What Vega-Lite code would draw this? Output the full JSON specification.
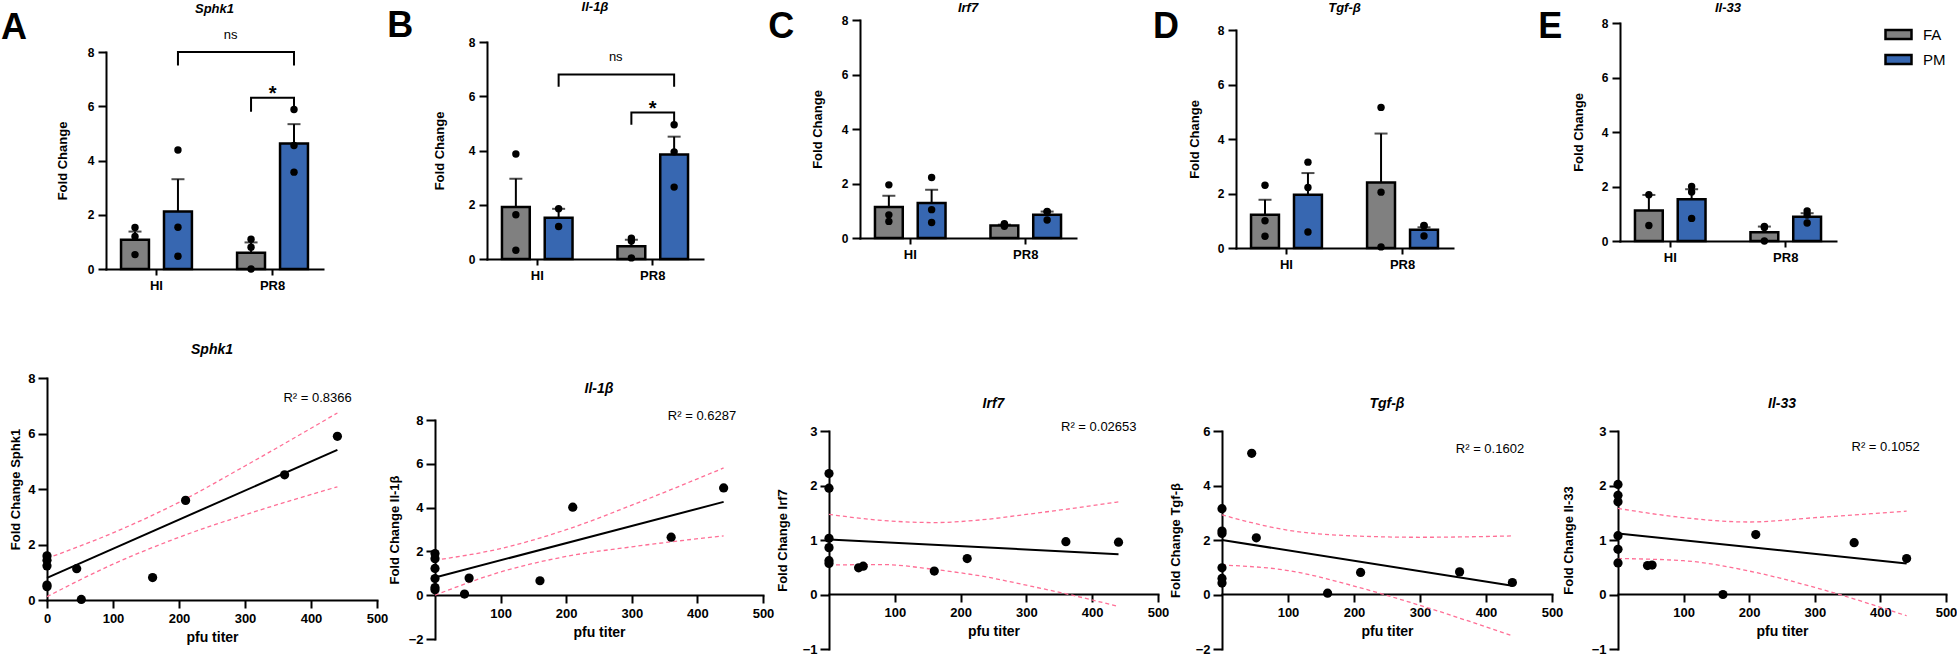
{
  "$schema": "https://vega.github.io/schema/vega-lite/v6.json",
  "background": "white",
  "padding": {"top": 0, "left": 0, "right": 0, "bottom": 0},
  "spacing": 51,
  "config": {
    "font": "Liberation Sans",
    "view": {"stroke": null},
    "axis": {"domainColor": "black", "domainWidth": 2, "domainCap": "square", "tickColor": "black", "tickWidth": 2, "labelColor": "black", "labelFontWeight": "bold", "labelFontSize": 12, "labelFont": "Liberation Sans", "titleColor": "black", "titleFontWeight": "bold", "titleFontSize": 13, "titleFont": "Liberation Sans", "grid": false, "labelOverlap": false, "labelFlush": false},
    "title": {"font": "Liberation Sans", "fontSize": 13, "fontWeight": "bold", "fontStyle": "italic", "color": "black", "anchor": "middle", "frame": "group"},
    "text": {"font": "Liberation Sans", "color": "black"}
  },
  "datasets": {
    "bars": [
      {"g": "sphk1", "group": "HI", "cond": "FA", "mean": 1.08, "upper": 1.38},
      {"g": "sphk1", "group": "HI", "cond": "PM", "mean": 2.12, "upper": 3.31},
      {"g": "sphk1", "group": "PR8", "cond": "FA", "mean": 0.6, "upper": 0.98},
      {"g": "sphk1", "group": "PR8", "cond": "PM", "mean": 4.63, "upper": 5.34},
      {"g": "il1b", "group": "HI", "cond": "FA", "mean": 1.92, "upper": 2.96},
      {"g": "il1b", "group": "HI", "cond": "PM", "mean": 1.52, "upper": 1.85},
      {"g": "il1b", "group": "PR8", "cond": "FA", "mean": 0.47, "upper": 0.71},
      {"g": "il1b", "group": "PR8", "cond": "PM", "mean": 3.85, "upper": 4.51},
      {"g": "irf7", "group": "HI", "cond": "FA", "mean": 1.14, "upper": 1.55},
      {"g": "irf7", "group": "HI", "cond": "PM", "mean": 1.28, "upper": 1.77},
      {"g": "irf7", "group": "PR8", "cond": "FA", "mean": 0.46, "upper": 0.49},
      {"g": "irf7", "group": "PR8", "cond": "PM", "mean": 0.85, "upper": 0.97},
      {"g": "tgfb", "group": "HI", "cond": "FA", "mean": 1.22, "upper": 1.77},
      {"g": "tgfb", "group": "HI", "cond": "PM", "mean": 1.95, "upper": 2.75},
      {"g": "tgfb", "group": "PR8", "cond": "FA", "mean": 2.4, "upper": 4.2},
      {"g": "tgfb", "group": "PR8", "cond": "PM", "mean": 0.67, "upper": 0.76},
      {"g": "il33", "group": "HI", "cond": "FA", "mean": 1.12, "upper": 1.69},
      {"g": "il33", "group": "HI", "cond": "PM", "mean": 1.53, "upper": 1.9},
      {"g": "il33", "group": "PR8", "cond": "FA", "mean": 0.32, "upper": 0.53},
      {"g": "il33", "group": "PR8", "cond": "PM", "mean": 0.89, "upper": 1.02}
    ],
    "pts": [
      {"g": "sphk1", "group": "HI", "cond": "FA", "v": 1.53}, {"g": "sphk1", "group": "HI", "cond": "FA", "v": 1.2}, {"g": "sphk1", "group": "HI", "cond": "FA", "v": 0.53},
      {"g": "sphk1", "group": "HI", "cond": "PM", "v": 4.39}, {"g": "sphk1", "group": "HI", "cond": "PM", "v": 1.54}, {"g": "sphk1", "group": "HI", "cond": "PM", "v": 0.47},
      {"g": "sphk1", "group": "PR8", "cond": "FA", "v": 1.1}, {"g": "sphk1", "group": "PR8", "cond": "FA", "v": 0.8}, {"g": "sphk1", "group": "PR8", "cond": "FA", "v": 0.0},
      {"g": "sphk1", "group": "PR8", "cond": "PM", "v": 5.88}, {"g": "sphk1", "group": "PR8", "cond": "PM", "v": 4.55}, {"g": "sphk1", "group": "PR8", "cond": "PM", "v": 3.57},
      {"g": "il1b", "group": "HI", "cond": "FA", "v": 3.87}, {"g": "il1b", "group": "HI", "cond": "FA", "v": 1.63}, {"g": "il1b", "group": "HI", "cond": "FA", "v": 0.32},
      {"g": "il1b", "group": "HI", "cond": "PM", "v": 1.85}, {"g": "il1b", "group": "HI", "cond": "PM", "v": 1.2},
      {"g": "il1b", "group": "PR8", "cond": "FA", "v": 0.77}, {"g": "il1b", "group": "PR8", "cond": "FA", "v": 0.66}, {"g": "il1b", "group": "PR8", "cond": "FA", "v": 0.04},
      {"g": "il1b", "group": "PR8", "cond": "PM", "v": 4.95}, {"g": "il1b", "group": "PR8", "cond": "PM", "v": 3.95}, {"g": "il1b", "group": "PR8", "cond": "PM", "v": 2.65},
      {"g": "irf7", "group": "HI", "cond": "FA", "v": 1.95}, {"g": "irf7", "group": "HI", "cond": "FA", "v": 0.85}, {"g": "irf7", "group": "HI", "cond": "FA", "v": 0.61},
      {"g": "irf7", "group": "HI", "cond": "PM", "v": 2.22}, {"g": "irf7", "group": "HI", "cond": "PM", "v": 1.04}, {"g": "irf7", "group": "HI", "cond": "PM", "v": 0.57},
      {"g": "irf7", "group": "PR8", "cond": "FA", "v": 0.52}, {"g": "irf7", "group": "PR8", "cond": "FA", "v": 0.49}, {"g": "irf7", "group": "PR8", "cond": "FA", "v": 0.43},
      {"g": "irf7", "group": "PR8", "cond": "PM", "v": 0.97}, {"g": "irf7", "group": "PR8", "cond": "PM", "v": 0.96}, {"g": "irf7", "group": "PR8", "cond": "PM", "v": 0.66},
      {"g": "tgfb", "group": "HI", "cond": "FA", "v": 2.3}, {"g": "tgfb", "group": "HI", "cond": "FA", "v": 1.0}, {"g": "tgfb", "group": "HI", "cond": "FA", "v": 0.43},
      {"g": "tgfb", "group": "HI", "cond": "PM", "v": 3.15}, {"g": "tgfb", "group": "HI", "cond": "PM", "v": 2.22}, {"g": "tgfb", "group": "HI", "cond": "PM", "v": 0.59},
      {"g": "tgfb", "group": "PR8", "cond": "FA", "v": 5.16}, {"g": "tgfb", "group": "PR8", "cond": "FA", "v": 2.05}, {"g": "tgfb", "group": "PR8", "cond": "FA", "v": 0.04},
      {"g": "tgfb", "group": "PR8", "cond": "PM", "v": 0.83}, {"g": "tgfb", "group": "PR8", "cond": "PM", "v": 0.82}, {"g": "tgfb", "group": "PR8", "cond": "PM", "v": 0.44},
      {"g": "il33", "group": "HI", "cond": "FA", "v": 1.7}, {"g": "il33", "group": "HI", "cond": "FA", "v": 0.57},
      {"g": "il33", "group": "HI", "cond": "PM", "v": 2.0}, {"g": "il33", "group": "HI", "cond": "PM", "v": 1.8}, {"g": "il33", "group": "HI", "cond": "PM", "v": 0.83},
      {"g": "il33", "group": "PR8", "cond": "FA", "v": 0.53}, {"g": "il33", "group": "PR8", "cond": "FA", "v": 0.5}, {"g": "il33", "group": "PR8", "cond": "FA", "v": 0.0},
      {"g": "il33", "group": "PR8", "cond": "PM", "v": 1.1}, {"g": "il33", "group": "PR8", "cond": "PM", "v": 0.95}, {"g": "il33", "group": "PR8", "cond": "PM", "v": 0.66}
    ],
    "brk": [
      {"g": "sphk1", "b": "ns", "group": "HI", "cond": "PM", "y": 7.5, "i": 1},
      {"g": "sphk1", "b": "ns", "group": "HI", "cond": "PM", "y": 8.0, "i": 2},
      {"g": "sphk1", "b": "ns", "group": "PR8", "cond": "PM", "y": 8.0, "i": 3},
      {"g": "sphk1", "b": "ns", "group": "PR8", "cond": "PM", "y": 7.5, "i": 4},
      {"g": "sphk1", "b": "star", "group": "PR8", "cond": "FA", "y": 5.8, "i": 1},
      {"g": "sphk1", "b": "star", "group": "PR8", "cond": "FA", "y": 6.31, "i": 2},
      {"g": "sphk1", "b": "star", "group": "PR8", "cond": "PM", "y": 6.31, "i": 3},
      {"g": "sphk1", "b": "star", "group": "PR8", "cond": "PM", "y": 5.8, "i": 4},
      {"g": "il1b", "b": "ns", "group": "HI", "cond": "PM", "y": 6.35, "i": 1},
      {"g": "il1b", "b": "ns", "group": "HI", "cond": "PM", "y": 6.8, "i": 2},
      {"g": "il1b", "b": "ns", "group": "PR8", "cond": "PM", "y": 6.8, "i": 3},
      {"g": "il1b", "b": "ns", "group": "PR8", "cond": "PM", "y": 6.35, "i": 4},
      {"g": "il1b", "b": "star", "group": "PR8", "cond": "FA", "y": 4.95, "i": 1},
      {"g": "il1b", "b": "star", "group": "PR8", "cond": "FA", "y": 5.4, "i": 2},
      {"g": "il1b", "b": "star", "group": "PR8", "cond": "PM", "y": 5.4, "i": 3},
      {"g": "il1b", "b": "star", "group": "PR8", "cond": "PM", "y": 4.95, "i": 4}
    ],
    "scat": [
      {"g": "sphk1", "pfu": 0, "v": 1.59}, {"g": "sphk1", "pfu": 0, "v": 1.43}, {"g": "sphk1", "pfu": 0, "v": 1.23}, {"g": "sphk1", "pfu": 0, "v": 0.54}, {"g": "sphk1", "pfu": 0, "v": 0.48},
      {"g": "sphk1", "pfu": 45, "v": 1.13}, {"g": "sphk1", "pfu": 52, "v": 0.02}, {"g": "sphk1", "pfu": 160, "v": 0.81}, {"g": "sphk1", "pfu": 210, "v": 3.59}, {"g": "sphk1", "pfu": 360, "v": 4.51}, {"g": "sphk1", "pfu": 440, "v": 5.9},
      {"g": "il1b", "pfu": 0, "v": 1.9}, {"g": "il1b", "pfu": 0, "v": 1.67}, {"g": "il1b", "pfu": 0, "v": 1.22}, {"g": "il1b", "pfu": 0, "v": 0.76}, {"g": "il1b", "pfu": 0, "v": 0.35}, {"g": "il1b", "pfu": 0, "v": 0.25},
      {"g": "il1b", "pfu": 45, "v": 0.05}, {"g": "il1b", "pfu": 52, "v": 0.78}, {"g": "il1b", "pfu": 160, "v": 0.66}, {"g": "il1b", "pfu": 210, "v": 4.02}, {"g": "il1b", "pfu": 360, "v": 2.65}, {"g": "il1b", "pfu": 440, "v": 4.9},
      {"g": "irf7", "pfu": 0, "v": 2.22}, {"g": "irf7", "pfu": 0, "v": 1.95}, {"g": "irf7", "pfu": 0, "v": 1.03}, {"g": "irf7", "pfu": 0, "v": 0.86}, {"g": "irf7", "pfu": 0, "v": 0.62}, {"g": "irf7", "pfu": 0, "v": 0.57},
      {"g": "irf7", "pfu": 45, "v": 0.49}, {"g": "irf7", "pfu": 52, "v": 0.52}, {"g": "irf7", "pfu": 160, "v": 0.43}, {"g": "irf7", "pfu": 210, "v": 0.66}, {"g": "irf7", "pfu": 360, "v": 0.97}, {"g": "irf7", "pfu": 440, "v": 0.96},
      {"g": "tgfb", "pfu": 0, "v": 3.15}, {"g": "tgfb", "pfu": 0, "v": 2.33}, {"g": "tgfb", "pfu": 0, "v": 2.24}, {"g": "tgfb", "pfu": 0, "v": 0.98}, {"g": "tgfb", "pfu": 0, "v": 0.59}, {"g": "tgfb", "pfu": 0, "v": 0.42},
      {"g": "tgfb", "pfu": 45, "v": 5.18}, {"g": "tgfb", "pfu": 52, "v": 2.08}, {"g": "tgfb", "pfu": 160, "v": 0.05}, {"g": "tgfb", "pfu": 210, "v": 0.81}, {"g": "tgfb", "pfu": 360, "v": 0.83}, {"g": "tgfb", "pfu": 440, "v": 0.44},
      {"g": "il33", "pfu": 0, "v": 2.02}, {"g": "il33", "pfu": 0, "v": 1.82}, {"g": "il33", "pfu": 0, "v": 1.7}, {"g": "il33", "pfu": 0, "v": 1.08}, {"g": "il33", "pfu": 0, "v": 0.83}, {"g": "il33", "pfu": 0, "v": 0.58},
      {"g": "il33", "pfu": 45, "v": 0.53}, {"g": "il33", "pfu": 52, "v": 0.54}, {"g": "il33", "pfu": 160, "v": 0.0}, {"g": "il33", "pfu": 210, "v": 1.1}, {"g": "il33", "pfu": 360, "v": 0.95}, {"g": "il33", "pfu": 440, "v": 0.66}
    ],
    "fit": [
      {"g": "sphk1", "pfu": 0, "v": 0.8}, {"g": "sphk1", "pfu": 440, "v": 5.41},
      {"g": "il1b", "pfu": 0, "v": 0.81}, {"g": "il1b", "pfu": 440, "v": 4.26},
      {"g": "irf7", "pfu": 0, "v": 1.01}, {"g": "irf7", "pfu": 440, "v": 0.74},
      {"g": "tgfb", "pfu": 0, "v": 2.0}, {"g": "tgfb", "pfu": 440, "v": 0.32},
      {"g": "il33", "pfu": 0, "v": 1.12}, {"g": "il33", "pfu": 440, "v": 0.57}
    ],
    "ci": [
      {"g": "sphk1", "bound": "upper", "pfu": 0, "v": 1.5}, {"g": "sphk1", "bound": "upper", "pfu": 100, "v": 2.42}, {"g": "sphk1", "bound": "upper", "pfu": 200, "v": 3.52}, {"g": "sphk1", "bound": "upper", "pfu": 300, "v": 4.83}, {"g": "sphk1", "bound": "upper", "pfu": 440, "v": 6.74},
      {"g": "sphk1", "bound": "lower", "pfu": 0, "v": 0.12}, {"g": "sphk1", "bound": "lower", "pfu": 100, "v": 1.29}, {"g": "sphk1", "bound": "lower", "pfu": 200, "v": 2.26}, {"g": "sphk1", "bound": "lower", "pfu": 300, "v": 3.07}, {"g": "sphk1", "bound": "lower", "pfu": 440, "v": 4.08},
      {"g": "il1b", "bound": "upper", "pfu": 0, "v": 1.6}, {"g": "il1b", "bound": "upper", "pfu": 100, "v": 2.13}, {"g": "il1b", "bound": "upper", "pfu": 200, "v": 2.99}, {"g": "il1b", "bound": "upper", "pfu": 300, "v": 4.11}, {"g": "il1b", "bound": "upper", "pfu": 440, "v": 5.81},
      {"g": "il1b", "bound": "lower", "pfu": 0, "v": 0.0}, {"g": "il1b", "bound": "lower", "pfu": 100, "v": 1.06}, {"g": "il1b", "bound": "lower", "pfu": 200, "v": 1.77}, {"g": "il1b", "bound": "lower", "pfu": 300, "v": 2.21}, {"g": "il1b", "bound": "lower", "pfu": 440, "v": 2.71},
      {"g": "irf7", "bound": "upper", "pfu": 0, "v": 1.47}, {"g": "irf7", "bound": "upper", "pfu": 80, "v": 1.36}, {"g": "irf7", "bound": "upper", "pfu": 160, "v": 1.32}, {"g": "irf7", "bound": "upper", "pfu": 240, "v": 1.38}, {"g": "irf7", "bound": "upper", "pfu": 300, "v": 1.47}, {"g": "irf7", "bound": "upper", "pfu": 370, "v": 1.58}, {"g": "irf7", "bound": "upper", "pfu": 440, "v": 1.7},
      {"g": "irf7", "bound": "lower", "pfu": 0, "v": 0.54}, {"g": "irf7", "bound": "lower", "pfu": 80, "v": 0.55}, {"g": "irf7", "bound": "lower", "pfu": 160, "v": 0.46}, {"g": "irf7", "bound": "lower", "pfu": 240, "v": 0.32}, {"g": "irf7", "bound": "lower", "pfu": 300, "v": 0.17}, {"g": "irf7", "bound": "lower", "pfu": 365, "v": 0.0}, {"g": "irf7", "bound": "lower", "pfu": 440, "v": -0.22},
      {"g": "tgfb", "bound": "upper", "pfu": 0, "v": 2.92}, {"g": "tgfb", "bound": "upper", "pfu": 100, "v": 2.36}, {"g": "tgfb", "bound": "upper", "pfu": 200, "v": 2.15}, {"g": "tgfb", "bound": "upper", "pfu": 300, "v": 2.1}, {"g": "tgfb", "bound": "upper", "pfu": 440, "v": 2.15},
      {"g": "tgfb", "bound": "lower", "pfu": 0, "v": 1.08}, {"g": "tgfb", "bound": "lower", "pfu": 100, "v": 0.88}, {"g": "tgfb", "bound": "lower", "pfu": 200, "v": 0.31}, {"g": "tgfb", "bound": "lower", "pfu": 300, "v": -0.4}, {"g": "tgfb", "bound": "lower", "pfu": 440, "v": -1.52},
      {"g": "il33", "bound": "upper", "pfu": 0, "v": 1.58}, {"g": "il33", "bound": "upper", "pfu": 100, "v": 1.41}, {"g": "il33", "bound": "upper", "pfu": 200, "v": 1.33}, {"g": "il33", "bound": "upper", "pfu": 300, "v": 1.41}, {"g": "il33", "bound": "upper", "pfu": 440, "v": 1.53},
      {"g": "il33", "bound": "lower", "pfu": 0, "v": 0.66}, {"g": "il33", "bound": "lower", "pfu": 100, "v": 0.62}, {"g": "il33", "bound": "lower", "pfu": 200, "v": 0.43}, {"g": "il33", "bound": "lower", "pfu": 300, "v": 0.13}, {"g": "il33", "bound": "lower", "pfu": 440, "v": -0.39}
    ]
  },
  "resolve": {"scale": {"fill": "independent", "xOffset": "independent"}},
  "vconcat": [
    {
      "spacing": 0,
      "bounds": "flush",
      "resolve": {"scale": {"fill": "independent", "xOffset": "independent"}},
      "hconcat": [
        {"width": 59, "height": 1, "data": {"values": []}, "mark": {"type": "point", "opacity": 0}},
        {
          "width": 217, "height": 249,
          "title": {"text": "Sphk1", "offset": -6},
          "layer": [
            {"data": {"name": "bars"}, "transform": [{"filter": {"field": "g", "equal": "sphk1"}}],
             "mark": {"type": "bar", "stroke": "black", "strokeWidth": 2.5},
             "encoding": {
               "x": {"field": "group", "type": "nominal", "title": null, "scale": {"domain": ["HI", "PR8"], "paddingInner": 0.13, "paddingOuter": 0}, "axis": {"labelAngle": 0, "tickSize": 6, "labelPadding": 4, "labelFontSize": 13}},
               "xOffset": {"field": "cond", "type": "nominal", "scale": {"domain": ["FA", "PM"], "paddingInner": 0.35, "paddingOuter": 0.35}},
               "y": {"field": "mean", "type": "quantitative", "title": "Fold Change", "scale": {"domain": [0, 8], "range": [249, 32], "nice": false}, "axis": {"values": [0, 2, 4, 6, 8], "format": "d", "tickSize": 8, "labelPadding": 4, "titlePadding": 18}},
               "fill": {"field": "cond", "type": "nominal", "scale": {"domain": ["FA", "PM"], "range": ["#808080", "#3767b1"]}, "legend": null}
             }},
            {"data": {"name": "bars"}, "transform": [{"filter": {"field": "g", "equal": "sphk1"}}],
             "mark": {"type": "rule", "color": "black", "strokeWidth": 2},
             "encoding": {"x": {"field": "group", "type": "nominal", "title": null}, "xOffset": {"field": "cond", "type": "nominal"}, "y": {"field": "mean", "type": "quantitative", "title": "Fold Change"}, "y2": {"field": "upper"}}},
            {"data": {"name": "bars"}, "transform": [{"filter": {"field": "g", "equal": "sphk1"}}],
             "mark": {"type": "tick", "color": "black", "thickness": 2, "size": 13},
             "encoding": {"x": {"field": "group", "type": "nominal", "title": null}, "xOffset": {"field": "cond", "type": "nominal"}, "y": {"field": "upper", "type": "quantitative", "title": "Fold Change"}}},
            {"data": {"name": "pts"}, "transform": [{"filter": {"field": "g", "equal": "sphk1"}}],
             "mark": {"type": "point", "filled": true, "color": "black", "size": 55, "opacity": 1},
             "encoding": {"x": {"field": "group", "type": "nominal", "title": null}, "xOffset": {"field": "cond", "type": "nominal"}, "y": {"field": "v", "type": "quantitative", "title": "Fold Change"}}},
            {"data": {"name": "brk"}, "transform": [{"filter": {"field": "g", "equal": "sphk1"}}],
             "mark": {"type": "line", "color": "black", "strokeWidth": 2},
             "encoding": {"x": {"field": "group", "type": "nominal", "title": null}, "xOffset": {"field": "cond", "type": "nominal"}, "y": {"field": "y", "type": "quantitative", "title": "Fold Change"}, "detail": {"field": "b", "type": "nominal"}, "order": {"field": "i", "type": "quantitative"}}},
            {"data": {"values": [{}]}, "mark": {"type": "text", "fontSize": 13, "dx": -42, "baseline": "alphabetic"},
             "encoding": {"x": {"datum": "PR8"}, "y": {"datum": 8.48}, "text": {"value": "ns"}}},
            {"data": {"values": [{}]}, "mark": {"type": "text", "fontSize": 20, "fontWeight": "bold", "baseline": "alphabetic"},
             "encoding": {"x": {"datum": "PR8"}, "y": {"datum": 6.23}, "text": {"value": "*"}}},
            {"data": {"values": [{}]}, "mark": {"type": "text", "fontSize": 36, "fontWeight": "bold", "align": "left", "baseline": "alphabetic", "dx": -155.5},
             "encoding": {"x": {"datum": "HI"}, "y": {"datum": 8.48}, "text": {"value": "A"}}}
          ]
        },
        {"width": 164, "height": 1, "data": {"values": []}, "mark": {"type": "point", "opacity": 0}},
        {
          "width": 216, "height": 239,
          "title": {"text": "Il-1β", "offset": -6},
          "layer": [
            {"data": {"name": "bars"}, "transform": [{"filter": {"field": "g", "equal": "il1b"}}],
             "mark": {"type": "bar", "stroke": "black", "strokeWidth": 2.5},
             "encoding": {
               "x": {"field": "group", "type": "nominal", "title": null, "scale": {"domain": ["HI", "PR8"], "paddingInner": 0.13, "paddingOuter": 0}, "axis": {"labelAngle": 0, "tickSize": 6, "labelPadding": 4, "labelFontSize": 13}},
               "xOffset": {"field": "cond", "type": "nominal", "scale": {"domain": ["FA", "PM"], "paddingInner": 0.35, "paddingOuter": 0.35}},
               "y": {"field": "mean", "type": "quantitative", "title": "Fold Change", "scale": {"domain": [0, 8], "range": [239, 22], "nice": false}, "axis": {"values": [0, 2, 4, 6, 8], "format": "d", "tickSize": 8, "labelPadding": 4, "titlePadding": 22}},
               "fill": {"field": "cond", "type": "nominal", "scale": {"domain": ["FA", "PM"], "range": ["#808080", "#3767b1"]}, "legend": null}
             }},
            {"data": {"name": "bars"}, "transform": [{"filter": {"field": "g", "equal": "il1b"}}],
             "mark": {"type": "rule", "color": "black", "strokeWidth": 2},
             "encoding": {"x": {"field": "group", "type": "nominal", "title": null}, "xOffset": {"field": "cond", "type": "nominal"}, "y": {"field": "mean", "type": "quantitative", "title": "Fold Change"}, "y2": {"field": "upper"}}},
            {"data": {"name": "bars"}, "transform": [{"filter": {"field": "g", "equal": "il1b"}}],
             "mark": {"type": "tick", "color": "black", "thickness": 2, "size": 13},
             "encoding": {"x": {"field": "group", "type": "nominal", "title": null}, "xOffset": {"field": "cond", "type": "nominal"}, "y": {"field": "upper", "type": "quantitative", "title": "Fold Change"}}},
            {"data": {"name": "pts"}, "transform": [{"filter": {"field": "g", "equal": "il1b"}}],
             "mark": {"type": "point", "filled": true, "color": "black", "size": 55, "opacity": 1},
             "encoding": {"x": {"field": "group", "type": "nominal", "title": null}, "xOffset": {"field": "cond", "type": "nominal"}, "y": {"field": "v", "type": "quantitative", "title": "Fold Change"}}},
            {"data": {"name": "brk"}, "transform": [{"filter": {"field": "g", "equal": "il1b"}}],
             "mark": {"type": "line", "color": "black", "strokeWidth": 2},
             "encoding": {"x": {"field": "group", "type": "nominal", "title": null}, "xOffset": {"field": "cond", "type": "nominal"}, "y": {"field": "y", "type": "quantitative", "title": "Fold Change"}, "detail": {"field": "b", "type": "nominal"}, "order": {"field": "i", "type": "quantitative"}}},
            {"data": {"values": [{}]}, "mark": {"type": "text", "fontSize": 13, "dx": -37, "baseline": "alphabetic"},
             "encoding": {"x": {"datum": "PR8"}, "y": {"datum": 7.31}, "text": {"value": "ns"}}},
            {"data": {"values": [{}]}, "mark": {"type": "text", "fontSize": 20, "fontWeight": "bold", "baseline": "alphabetic"},
             "encoding": {"x": {"datum": "PR8"}, "y": {"datum": 5.32}, "text": {"value": "*"}}},
            {"data": {"values": [{}]}, "mark": {"type": "text", "fontSize": 36, "fontWeight": "bold", "align": "left", "baseline": "alphabetic", "dx": -150},
             "encoding": {"x": {"datum": "HI"}, "y": {"datum": 8.2}, "text": {"value": "B"}}}
          ]
        },
        {"width": 157, "height": 1, "data": {"values": []}, "mark": {"type": "point", "opacity": 0}},
        {
          "width": 216, "height": 218,
          "title": {"text": "Irf7", "offset": -6},
          "layer": [
            {"data": {"name": "bars"}, "transform": [{"filter": {"field": "g", "equal": "irf7"}}],
             "mark": {"type": "bar", "stroke": "black", "strokeWidth": 2.5},
             "encoding": {
               "x": {"field": "group", "type": "nominal", "title": null, "scale": {"domain": ["HI", "PR8"], "paddingInner": 0.13, "paddingOuter": 0}, "axis": {"labelAngle": 0, "tickSize": 6, "labelPadding": 4, "labelFontSize": 13}},
               "xOffset": {"field": "cond", "type": "nominal", "scale": {"domain": ["FA", "PM"], "paddingInner": 0.35, "paddingOuter": 0.35}},
               "y": {"field": "mean", "type": "quantitative", "title": "Fold Change", "scale": {"domain": [0, 8], "range": [218, 0], "nice": false}, "axis": {"values": [0, 2, 4, 6, 8], "format": "d", "tickSize": 8, "labelPadding": 4, "titlePadding": 17}},
               "fill": {"field": "cond", "type": "nominal", "scale": {"domain": ["FA", "PM"], "range": ["#808080", "#3767b1"]}, "legend": null}
             }},
            {"data": {"name": "bars"}, "transform": [{"filter": {"field": "g", "equal": "irf7"}}],
             "mark": {"type": "rule", "color": "black", "strokeWidth": 2},
             "encoding": {"x": {"field": "group", "type": "nominal", "title": null}, "xOffset": {"field": "cond", "type": "nominal"}, "y": {"field": "mean", "type": "quantitative", "title": "Fold Change"}, "y2": {"field": "upper"}}},
            {"data": {"name": "bars"}, "transform": [{"filter": {"field": "g", "equal": "irf7"}}],
             "mark": {"type": "tick", "color": "black", "thickness": 2, "size": 13},
             "encoding": {"x": {"field": "group", "type": "nominal", "title": null}, "xOffset": {"field": "cond", "type": "nominal"}, "y": {"field": "upper", "type": "quantitative", "title": "Fold Change"}}},
            {"data": {"name": "pts"}, "transform": [{"filter": {"field": "g", "equal": "irf7"}}],
             "mark": {"type": "point", "filled": true, "color": "black", "size": 55, "opacity": 1},
             "encoding": {"x": {"field": "group", "type": "nominal", "title": null}, "xOffset": {"field": "cond", "type": "nominal"}, "y": {"field": "v", "type": "quantitative", "title": "Fold Change"}}},
            {"data": {"values": [{}]}, "mark": {"type": "text", "fontSize": 36, "fontWeight": "bold", "align": "left", "baseline": "alphabetic", "dx": -142},
             "encoding": {"x": {"datum": "HI"}, "y": {"datum": 7.34}, "text": {"value": "C"}}}
          ]
        },
        {"width": 160, "height": 1, "data": {"values": []}, "mark": {"type": "point", "opacity": 0}},
        {
          "width": 217, "height": 228,
          "title": {"text": "Tgf-β", "offset": -6},
          "layer": [
            {"data": {"name": "bars"}, "transform": [{"filter": {"field": "g", "equal": "tgfb"}}],
             "mark": {"type": "bar", "stroke": "black", "strokeWidth": 2.5},
             "encoding": {
               "x": {"field": "group", "type": "nominal", "title": null, "scale": {"domain": ["HI", "PR8"], "paddingInner": 0.13, "paddingOuter": 0}, "axis": {"labelAngle": 0, "tickSize": 6, "labelPadding": 4, "labelFontSize": 13}},
               "xOffset": {"field": "cond", "type": "nominal", "scale": {"domain": ["FA", "PM"], "paddingInner": 0.35, "paddingOuter": 0.35}},
               "y": {"field": "mean", "type": "quantitative", "title": "Fold Change", "scale": {"domain": [0, 8], "range": [228, 10], "nice": false}, "axis": {"values": [0, 2, 4, 6, 8], "format": "d", "tickSize": 8, "labelPadding": 4, "titlePadding": 16}},
               "fill": {"field": "cond", "type": "nominal", "scale": {"domain": ["FA", "PM"], "range": ["#808080", "#3767b1"]}, "legend": null}
             }},
            {"data": {"name": "bars"}, "transform": [{"filter": {"field": "g", "equal": "tgfb"}}],
             "mark": {"type": "rule", "color": "black", "strokeWidth": 2},
             "encoding": {"x": {"field": "group", "type": "nominal", "title": null}, "xOffset": {"field": "cond", "type": "nominal"}, "y": {"field": "mean", "type": "quantitative", "title": "Fold Change"}, "y2": {"field": "upper"}}},
            {"data": {"name": "bars"}, "transform": [{"filter": {"field": "g", "equal": "tgfb"}}],
             "mark": {"type": "tick", "color": "black", "thickness": 2, "size": 13},
             "encoding": {"x": {"field": "group", "type": "nominal", "title": null}, "xOffset": {"field": "cond", "type": "nominal"}, "y": {"field": "upper", "type": "quantitative", "title": "Fold Change"}}},
            {"data": {"name": "pts"}, "transform": [{"filter": {"field": "g", "equal": "tgfb"}}],
             "mark": {"type": "point", "filled": true, "color": "black", "size": 55, "opacity": 1},
             "encoding": {"x": {"field": "group", "type": "nominal", "title": null}, "xOffset": {"field": "cond", "type": "nominal"}, "y": {"field": "v", "type": "quantitative", "title": "Fold Change"}}},
            {"data": {"values": [{}]}, "mark": {"type": "text", "fontSize": 36, "fontWeight": "bold", "align": "left", "baseline": "alphabetic", "dx": -133.5},
             "encoding": {"x": {"datum": "HI"}, "y": {"datum": 7.71}, "text": {"value": "D"}}}
          ]
        },
        {"width": 167, "height": 1, "data": {"values": []}, "mark": {"type": "point", "opacity": 0}},
        {
          "width": 216, "height": 221,
          "title": {"text": "Il-33", "offset": -6},
          "layer": [
            {"data": {"name": "bars"}, "transform": [{"filter": {"field": "g", "equal": "il33"}}],
             "mark": {"type": "bar", "stroke": "black", "strokeWidth": 2.5},
             "encoding": {
               "x": {"field": "group", "type": "nominal", "title": null, "scale": {"domain": ["HI", "PR8"], "paddingInner": 0.13, "paddingOuter": 0}, "axis": {"labelAngle": 0, "tickSize": 6, "labelPadding": 4, "labelFontSize": 13}},
               "xOffset": {"field": "cond", "type": "nominal", "scale": {"domain": ["FA", "PM"], "paddingInner": 0.35, "paddingOuter": 0.35}},
               "y": {"field": "mean", "type": "quantitative", "title": "Fold Change", "scale": {"domain": [0, 8], "range": [221, 3], "nice": false}, "axis": {"values": [0, 2, 4, 6, 8], "format": "d", "tickSize": 8, "labelPadding": 4, "titlePadding": 16}},
               "fill": {"field": "cond", "type": "nominal", "scale": {"domain": ["FA", "PM"], "range": ["#808080", "#3767b1"]},
                        "legend": {"title": null, "orient": "right", "offset": 48, "padding": 0, "symbolType": "M-1,-0.35H1V0.35H-1Z", "symbolSize": 676, "symbolStrokeColor": "black", "symbolStrokeWidth": 2.5, "symbolOpacity": 1, "labelFontSize": 15, "labelFontWeight": "normal", "labelColor": "black", "labelOffset": 10, "rowPadding": -4}}
             }},
            {"data": {"name": "bars"}, "transform": [{"filter": {"field": "g", "equal": "il33"}}],
             "mark": {"type": "rule", "color": "black", "strokeWidth": 2},
             "encoding": {"x": {"field": "group", "type": "nominal", "title": null}, "xOffset": {"field": "cond", "type": "nominal"}, "y": {"field": "mean", "type": "quantitative", "title": "Fold Change"}, "y2": {"field": "upper"}}},
            {"data": {"name": "bars"}, "transform": [{"filter": {"field": "g", "equal": "il33"}}],
             "mark": {"type": "tick", "color": "black", "thickness": 2, "size": 13},
             "encoding": {"x": {"field": "group", "type": "nominal", "title": null}, "xOffset": {"field": "cond", "type": "nominal"}, "y": {"field": "upper", "type": "quantitative", "title": "Fold Change"}}},
            {"data": {"name": "pts"}, "transform": [{"filter": {"field": "g", "equal": "il33"}}],
             "mark": {"type": "point", "filled": true, "color": "black", "size": 55, "opacity": 1},
             "encoding": {"x": {"field": "group", "type": "nominal", "title": null}, "xOffset": {"field": "cond", "type": "nominal"}, "y": {"field": "v", "type": "quantitative", "title": "Fold Change"}}},
            {"data": {"values": [{}]}, "mark": {"type": "text", "fontSize": 36, "fontWeight": "bold", "align": "left", "baseline": "alphabetic", "dx": -132},
             "encoding": {"x": {"datum": "HI"}, "y": {"datum": 7.45}, "text": {"value": "E"}}}
          ]
        }
      ]
    },
    {
      "spacing": 0,
      "bounds": "flush",
      "hconcat": [
        {
          "width": 330, "height": 222,
          "title": {"text": "Sphk1", "fontSize": 14, "offset": 15},
          "layer": [
            {"data": {"name": "ci"}, "transform": [{"filter": {"field": "g", "equal": "sphk1"}}],
             "mark": {"type": "line", "color": "#ff6f96", "strokeWidth": 1.3, "strokeDash": [4, 3], "interpolate": "monotone"},
             "encoding": {
               "x": {"field": "pfu", "type": "quantitative", "title": "pfu titer", "scale": {"domain": [0, 500], "nice": false, "zero": false}, "axis": {"values": [0, 100, 200, 300, 400, 500], "format": "d", "offset": 0, "tickSize": 8, "labelPadding": 4, "titlePadding": 5, "titleFontSize": 14, "labelFontSize": 13}},
               "y": {"field": "v", "type": "quantitative", "title": "Fold Change Sphk1", "scale": {"domain": [0, 8], "range": [222, 0], "nice": false, "zero": false}, "axis": {"values": [0, 2, 4, 6, 8], "format": "d", "tickSize": 9, "labelPadding": 3, "titlePadding": 5, "labelFontSize": 13}},
               "detail": {"field": "bound", "type": "nominal"}
             }},
            {"data": {"name": "fit"}, "transform": [{"filter": {"field": "g", "equal": "sphk1"}}],
             "mark": {"type": "line", "color": "black", "strokeWidth": 2},
             "encoding": {"x": {"field": "pfu", "type": "quantitative", "title": "pfu titer"}, "y": {"field": "v", "type": "quantitative", "title": "Fold Change Sphk1"}}},
            {"data": {"name": "scat"}, "transform": [{"filter": {"field": "g", "equal": "sphk1"}}],
             "mark": {"type": "circle", "color": "black", "size": 85, "opacity": 1},
             "encoding": {"x": {"field": "pfu", "type": "quantitative", "title": "pfu titer"}, "y": {"field": "v", "type": "quantitative", "title": "Fold Change Sphk1"}}},
            {"data": {"values": [{}]}, "mark": {"type": "text", "fontSize": 13},
             "encoding": {"x": {"datum": 410}, "y": {"datum": 7.28}, "text": {"value": "R² = 0.8366"}}}
          ]
        },
        {"width": 58, "height": 1, "data": {"values": []}, "mark": {"type": "point", "opacity": 0}},
        {
          "width": 328, "height": 261,
          "title": {"text": "Il-1β", "fontSize": 14, "offset": -18},
          "layer": [
            {"data": {"name": "ci"}, "transform": [{"filter": {"field": "g", "equal": "il1b"}}],
             "mark": {"type": "line", "color": "#ff6f96", "strokeWidth": 1.3, "strokeDash": [4, 3], "interpolate": "monotone"},
             "encoding": {
               "x": {"field": "pfu", "type": "quantitative", "title": "pfu titer", "scale": {"domain": [0, 500], "nice": false, "zero": false}, "axis": {"values": [100, 200, 300, 400, 500], "format": "d", "offset": -44, "tickSize": 8, "labelPadding": 4, "titlePadding": 5, "titleFontSize": 14, "labelFontSize": 13}},
               "y": {"field": "v", "type": "quantitative", "title": "Fold Change Il-1β", "scale": {"domain": [-2, 8], "range": [261, 42], "nice": false, "zero": false}, "axis": {"values": [-2, 0, 2, 4, 6, 8], "format": "d", "tickSize": 9, "labelPadding": 3, "titlePadding": 7, "labelFontSize": 13}},
               "detail": {"field": "bound", "type": "nominal"}
             }},
            {"data": {"name": "fit"}, "transform": [{"filter": {"field": "g", "equal": "il1b"}}],
             "mark": {"type": "line", "color": "black", "strokeWidth": 2},
             "encoding": {"x": {"field": "pfu", "type": "quantitative", "title": "pfu titer"}, "y": {"field": "v", "type": "quantitative", "title": "Fold Change Il-1β"}}},
            {"data": {"name": "scat"}, "transform": [{"filter": {"field": "g", "equal": "il1b"}}],
             "mark": {"type": "circle", "color": "black", "size": 85, "opacity": 1},
             "encoding": {"x": {"field": "pfu", "type": "quantitative", "title": "pfu titer"}, "y": {"field": "v", "type": "quantitative", "title": "Fold Change Il-1β"}}},
            {"data": {"values": [{}]}, "mark": {"type": "text", "fontSize": 13},
             "encoding": {"x": {"datum": 407}, "y": {"datum": 8.17}, "text": {"value": "R² = 0.6287"}}}
          ]
        },
        {"width": 66, "height": 1, "data": {"values": []}, "mark": {"type": "point", "opacity": 0}},
        {
          "width": 329, "height": 271,
          "title": {"text": "Irf7", "fontSize": 14, "offset": -33},
          "layer": [
            {"data": {"name": "ci"}, "transform": [{"filter": {"field": "g", "equal": "irf7"}}],
             "mark": {"type": "line", "color": "#ff6f96", "strokeWidth": 1.3, "strokeDash": [4, 3], "interpolate": "monotone"},
             "encoding": {
               "x": {"field": "pfu", "type": "quantitative", "title": "pfu titer", "scale": {"domain": [0, 500], "nice": false, "zero": false}, "axis": {"values": [100, 200, 300, 400, 500], "format": "d", "offset": -55, "tickSize": 8, "labelPadding": 4, "titlePadding": 5, "titleFontSize": 14, "labelFontSize": 13}},
               "y": {"field": "v", "type": "quantitative", "title": "Fold Change Irf7", "scale": {"domain": [-1, 3], "range": [271, 53], "nice": false, "zero": false}, "axis": {"values": [-1, 0, 1, 2, 3], "format": "d", "tickSize": 9, "labelPadding": 3, "titlePadding": 13, "labelFontSize": 13}},
               "detail": {"field": "bound", "type": "nominal"}
             }},
            {"data": {"name": "fit"}, "transform": [{"filter": {"field": "g", "equal": "irf7"}}],
             "mark": {"type": "line", "color": "black", "strokeWidth": 2},
             "encoding": {"x": {"field": "pfu", "type": "quantitative", "title": "pfu titer"}, "y": {"field": "v", "type": "quantitative", "title": "Fold Change Irf7"}}},
            {"data": {"name": "scat"}, "transform": [{"filter": {"field": "g", "equal": "irf7"}}],
             "mark": {"type": "circle", "color": "black", "size": 85, "opacity": 1},
             "encoding": {"x": {"field": "pfu", "type": "quantitative", "title": "pfu titer"}, "y": {"field": "v", "type": "quantitative", "title": "Fold Change Irf7"}}},
            {"data": {"values": [{}]}, "mark": {"type": "text", "fontSize": 13},
             "encoding": {"x": {"datum": 410}, "y": {"datum": 3.08}, "text": {"value": "R² = 0.02653"}}}
          ]
        },
        {"width": 64, "height": 1, "data": {"values": []}, "mark": {"type": "point", "opacity": 0}},
        {
          "width": 330, "height": 271,
          "title": {"text": "Tgf-β", "fontSize": 14, "offset": -33},
          "layer": [
            {"data": {"name": "ci"}, "transform": [{"filter": {"field": "g", "equal": "tgfb"}}],
             "mark": {"type": "line", "color": "#ff6f96", "strokeWidth": 1.3, "strokeDash": [4, 3], "interpolate": "monotone"},
             "encoding": {
               "x": {"field": "pfu", "type": "quantitative", "title": "pfu titer", "scale": {"domain": [0, 500], "nice": false, "zero": false}, "axis": {"values": [100, 200, 300, 400, 500], "format": "d", "offset": -55, "tickSize": 8, "labelPadding": 4, "titlePadding": 5, "titleFontSize": 14, "labelFontSize": 13}},
               "y": {"field": "v", "type": "quantitative", "title": "Fold Change Tgf-β", "scale": {"domain": [-2, 6], "range": [271, 53], "nice": false, "zero": false}, "axis": {"values": [-2, 0, 2, 4, 6], "format": "d", "tickSize": 9, "labelPadding": 3, "titlePadding": 13, "labelFontSize": 13}},
               "detail": {"field": "bound", "type": "nominal"}
             }},
            {"data": {"name": "fit"}, "transform": [{"filter": {"field": "g", "equal": "tgfb"}}],
             "mark": {"type": "line", "color": "black", "strokeWidth": 2},
             "encoding": {"x": {"field": "pfu", "type": "quantitative", "title": "pfu titer"}, "y": {"field": "v", "type": "quantitative", "title": "Fold Change Tgf-β"}}},
            {"data": {"name": "scat"}, "transform": [{"filter": {"field": "g", "equal": "tgfb"}}],
             "mark": {"type": "circle", "color": "black", "size": 85, "opacity": 1},
             "encoding": {"x": {"field": "pfu", "type": "quantitative", "title": "pfu titer"}, "y": {"field": "v", "type": "quantitative", "title": "Fold Change Tgf-β"}}},
            {"data": {"values": [{}]}, "mark": {"type": "text", "fontSize": 13},
             "encoding": {"x": {"datum": 406}, "y": {"datum": 5.33}, "text": {"value": "R² = 0.1602"}}}
          ]
        },
        {"width": 66, "height": 1, "data": {"values": []}, "mark": {"type": "point", "opacity": 0}},
        {
          "width": 328, "height": 271,
          "title": {"text": "Il-33", "fontSize": 14, "offset": -33},
          "layer": [
            {"data": {"name": "ci"}, "transform": [{"filter": {"field": "g", "equal": "il33"}}],
             "mark": {"type": "line", "color": "#ff6f96", "strokeWidth": 1.3, "strokeDash": [4, 3], "interpolate": "monotone"},
             "encoding": {
               "x": {"field": "pfu", "type": "quantitative", "title": "pfu titer", "scale": {"domain": [0, 500], "nice": false, "zero": false}, "axis": {"values": [100, 200, 300, 400, 500], "format": "d", "offset": -55, "tickSize": 8, "labelPadding": 4, "titlePadding": 5, "titleFontSize": 14, "labelFontSize": 13}},
               "y": {"field": "v", "type": "quantitative", "title": "Fold Change Il-33", "scale": {"domain": [-1, 3], "range": [271, 53], "nice": false, "zero": false}, "axis": {"values": [-1, 0, 1, 2, 3], "format": "d", "tickSize": 9, "labelPadding": 3, "titlePadding": 16, "labelFontSize": 13}},
               "detail": {"field": "bound", "type": "nominal"}
             }},
            {"data": {"name": "fit"}, "transform": [{"filter": {"field": "g", "equal": "il33"}}],
             "mark": {"type": "line", "color": "black", "strokeWidth": 2},
             "encoding": {"x": {"field": "pfu", "type": "quantitative", "title": "pfu titer"}, "y": {"field": "v", "type": "quantitative", "title": "Fold Change Il-33"}}},
            {"data": {"name": "scat"}, "transform": [{"filter": {"field": "g", "equal": "il33"}}],
             "mark": {"type": "circle", "color": "black", "size": 85, "opacity": 1},
             "encoding": {"x": {"field": "pfu", "type": "quantitative", "title": "pfu titer"}, "y": {"field": "v", "type": "quantitative", "title": "Fold Change Il-33"}}},
            {"data": {"values": [{}]}, "mark": {"type": "text", "fontSize": 13},
             "encoding": {"x": {"datum": 408}, "y": {"datum": 2.7}, "text": {"value": "R² = 0.1052"}}}
          ]
        }
      ]
    }
  ]
}
